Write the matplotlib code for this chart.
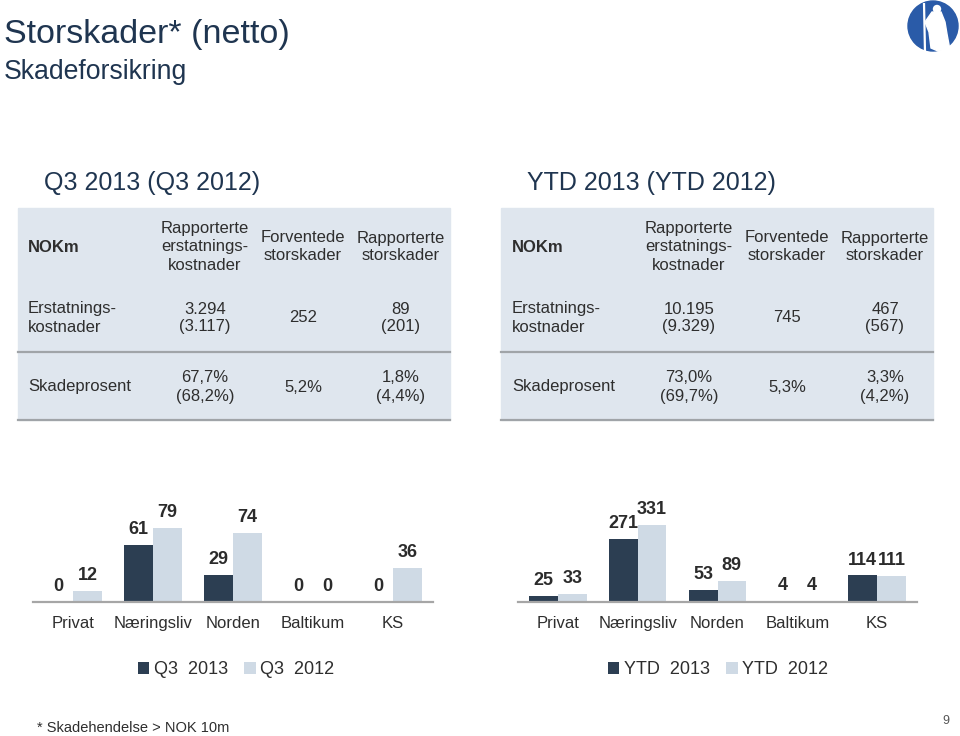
import matplotlib
matplotlib.use("Agg")
import matplotlib.pyplot as plt
from matplotlib.patches import Rectangle, Circle, Polygon
import numpy as np

plt.rcParams['font.family'] = ['Liberation Sans', 'DejaVu Sans']

# ---------------- data ----------------
categories = ["Privat", "Næringsliv", "Norden", "Baltikum", "KS"]
q3_2013 = [0, 61, 29, 0, 0]
q3_2012 = [12, 79, 74, 0, 36]
ytd_2013 = [25, 271, 53, 4, 114]
ytd_2012 = [33, 331, 89, 4, 111]

table_header = ["NOKm", "Rapporterte\nerstatnings-\nkostnader", "Forventede\nstorskader", "Rapporterte\nstorskader"]
q3_rows = [
    ["Erstatnings-\nkostnader", "3.294\n(3.117)", "252", "89\n(201)"],
    ["Skadeprosent", "67,7%\n(68,2%)", "5,2%", "1,8%\n(4,4%)"],
]
ytd_rows = [
    ["Erstatnings-\nkostnader", "10.195\n(9.329)", "745", "467\n(567)"],
    ["Skadeprosent", "73,0%\n(69,7%)", "5,3%", "3,3%\n(4,2%)"],
]

W, H = 960, 736
NAVY = "#1f3550"
DARK = "#2c3e52"
LIGHT = "#cfdae5"
TBG = "#dfe6ee"
TXT = "#2e2e2e"

fig = plt.figure(figsize=(W / 100, H / 100), dpi=100)

def fx(x):
    return x / W

def fy(y):
    return 1 - y / H

# titles
fig.text(fx(4), fy(35), "Storskader* (netto)", fontsize=24.5, color=NAVY, va="center", ha="left")
fig.text(fx(4), fy(72), "Skadeforsikring", fontsize=19.2, color=NAVY, va="center", ha="left")
fig.text(fx(44), fy(183), "Q3 2013 (Q3 2012)", fontsize=18, color=NAVY, va="center", ha="left")
fig.text(fx(527), fy(183), "YTD 2013 (YTD 2012)", fontsize=18, color=NAVY, va="center", ha="left")

# logo (decoration)
ax_logo = fig.add_axes([fx(906), fy(54), 54 / W, 54 / H])
ax_logo.set_xlim(906, 960); ax_logo.set_ylim(54, 0); ax_logo.axis("off")
ax_logo.add_patch(Circle((933, 26), 25, color="#2a5ba8"))
ax_logo.plot([924, 925], [3, 52], color="white", lw=1.6, solid_capstyle="butt")
ax_logo.add_patch(Circle((937, 9), 3.5, color="white"))
ax_logo.add_patch(Polygon([[932, 12], [941, 12], [945, 22], [947, 34], [950, 50],
                           [938, 51], [931, 48], [929, 32], [925, 22]],
                          closed=True, color="white"))

# tables
def draw_table(x0, x1, name_x, col_x, rows):
    fig.patches.append(Rectangle((fx(x0), fy(420)), (x1 - x0) / W, (420 - 208) / H,
                                 transform=fig.transFigure, color=TBG, zorder=0))
    for yl in (352, 420):
        fig.lines.append(plt.Line2D([fx(x0), fx(x1)], [fy(yl), fy(yl)], transform=fig.transFigure,
                                    color="#a0a4a8", lw=1.6))
    row_y = [247, 318, 387]
    fig.text(fx(name_x), fy(row_y[0]), table_header[0], fontsize=12, fontweight="bold",
             color=TXT, ha="left", va="center")
    for j in range(1, 4):
        fig.text(fx(col_x[j - 1]), fy(row_y[0]), table_header[j], fontsize=12, color=TXT,
                 ha="center", va="center", linespacing=1.25)
    for i, r in enumerate(rows):
        fig.text(fx(name_x), fy(row_y[i + 1]), r[0], fontsize=12, color=TXT,
                 ha="left", va="center", linespacing=1.25)
        for j in range(1, 4):
            fig.text(fx(col_x[j - 1]), fy(row_y[i + 1]), r[j], fontsize=12, color=TXT,
                     ha="center", va="center", linespacing=1.25)

draw_table(18, 450, 28, [205, 303, 401], q3_rows)
draw_table(501, 933, 512, [689, 787, 885], ytd_rows)

# bar charts
def bar_chart(x0, x1, s1, s2, ymax, labels, legend_x):
    ax = fig.add_axes([fx(x0), fy(602), (x1 - x0) / W, 112 / H])
    x = np.arange(len(categories))
    w = 0.36
    b1 = ax.bar(x - w / 2, s1, w, color=DARK, label=labels[0])
    b2 = ax.bar(x + w / 2, s2, w, color=LIGHT, label=labels[1])
    for bars, vals in ((b1, s1), (b2, s2)):
        for b, v in zip(bars, vals):
            ax.annotate(str(v), (b.get_x() + b.get_width() / 2, v), xytext=(0, 5),
                        textcoords="offset points", ha="center", va="bottom",
                        fontsize=13, fontweight="bold", color="#2b2b2b")
    ax.set_xlim(-0.5, len(categories) - 0.5)
    ax.set_ylim(0, ymax)
    ax.set_xticks(x)
    ax.set_xticklabels(categories, fontsize=12, color=TXT)
    ax.tick_params(axis="x", length=0, pad=10)
    ax.set_yticks([])
    for s in ("top", "left", "right"):
        ax.spines[s].set_visible(False)
    ax.spines["bottom"].set_color("#a6a6a6")
    ax.spines["bottom"].set_linewidth(1.6)
    ax.patch.set_alpha(0)
    fig.legend(handles=[b1, b2], loc="center", bbox_to_anchor=(fx(legend_x), fy(670)),
               bbox_transform=fig.transFigure, ncol=2, frameon=False, fontsize=13,
               handlelength=0.65, handleheight=0.65, handletextpad=0.25, columnspacing=0.9,
               labelcolor=TXT)
    return ax

bar_chart(33, 433, q3_2013, q3_2012, 79 * 112 / 74, ["Q3  2013", "Q3  2012"], 236)
bar_chart(518, 917, ytd_2013, ytd_2012, 331 * 112 / 77, ["YTD  2013", "YTD  2012"], 718)

# footer
fig.text(fx(37), fy(728), "* Skadehendelse > NOK 10m", fontsize=10.5, color=TXT, ha="left", va="center")
fig.text(fx(946), fy(721), "9", fontsize=9, color="#555555", ha="center", va="center")

fig.savefig("out.png", dpi=100)
